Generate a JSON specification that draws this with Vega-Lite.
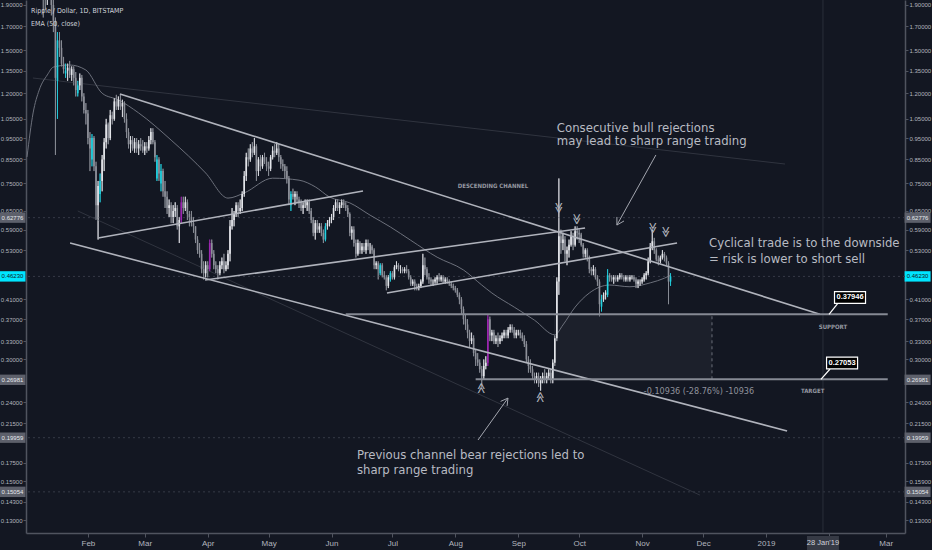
{
"$schema":"https://vega.github.io/schema/vega-lite/v6.json",
"width":879,"height":533,"autosize":"none",
"padding":{"left":26,"top":0,"right":27,"bottom":17},
"background":"#131722",
"config":{"view":{"stroke":null},"axis":{"domainColor":"#50545f","tickColor":"#50545f","labelColor":"#b2b5be","labelFont":"Liberation Sans","grid":false},"text":{"font":"DejaVu Sans Condensed"}},
"datasets":{
"candles":[
{"d":"2018-01-01","o":2.10,"h":2.45,"l":2.00,"c":2.30},
{"d":"2018-01-02","o":2.30,"h":2.80,"l":2.25,"c":2.65},
{"d":"2018-01-03","o":2.65,"h":3.20,"l":2.60,"c":3.05},
{"d":"2018-01-04","o":3.05,"h":3.40,"l":2.90,"c":3.10},
{"d":"2018-01-05","o":3.10,"h":3.30,"l":2.80,"c":3.00},
{"d":"2018-01-06","o":3.00,"h":3.10,"l":2.80,"c":2.90},
{"d":"2018-01-07","o":2.90,"h":2.95,"l":2.50,"c":2.60},
{"d":"2018-01-08","o":2.60,"h":2.65,"l":2.05,"c":2.20},
{"d":"2018-01-09","o":2.20,"h":2.35,"l":1.95,"c":2.05},
{"d":"2018-01-10","o":2.05,"h":2.10,"l":1.78,"c":2.00},
{"d":"2018-01-11","o":2.00,"h":2.10,"l":1.85,"c":1.95},
{"d":"2018-01-12","o":1.95,"h":2.15,"l":1.90,"c":2.05},
{"d":"2018-01-13","o":2.05,"h":2.25,"l":2.00,"c":2.10},
{"d":"2018-01-14","o":2.10,"h":2.15,"l":1.80,"c":1.90},
{"d":"2018-01-15","o":1.90,"h":2.05,"l":1.65,"c":1.75},
{"d":"2018-01-16","o":1.75,"h":1.78,"l":0.87,"c":1.30},
{"d":"2018-01-17","o":1.28,"h":1.65,"l":1.05,"c":1.58},
{"d":"2018-01-18","o":1.58,"h":1.65,"l":1.45,"c":1.52},
{"d":"2018-01-19","o":1.52,"h":1.58,"l":1.38,"c":1.40},
{"d":"2018-01-20","o":1.40,"h":1.45,"l":1.33,"c":1.36},
{"d":"2018-01-21","o":1.33,"h":1.40,"l":1.30,"c":1.35},
{"d":"2018-01-22","o":1.35,"h":1.40,"l":1.28,"c":1.37},
{"d":"2018-01-23","o":1.37,"h":1.42,"l":1.30,"c":1.32},
{"d":"2018-01-24","o":1.32,"h":1.38,"l":1.28,"c":1.36},
{"d":"2018-01-25","o":1.36,"h":1.38,"l":1.25,"c":1.30},
{"d":"2018-01-26","o":1.30,"h":1.34,"l":1.18,"c":1.22},
{"d":"2018-01-27","o":1.20,"h":1.28,"l":1.18,"c":1.25},
{"d":"2018-01-28","o":1.25,"h":1.33,"l":1.22,"c":1.30},
{"d":"2018-01-29","o":1.30,"h":1.32,"l":1.15,"c":1.18},
{"d":"2018-01-30","o":1.18,"h":1.20,"l":1.08,"c":1.10},
{"d":"2018-01-31","o":1.10,"h":1.14,"l":1.02,"c":1.08},
{"d":"2018-02-01","o":1.08,"h":1.10,"l":0.92,"c":0.95},
{"d":"2018-02-02","o":0.95,"h":0.98,"l":0.80,"c":0.90},
{"d":"2018-02-03","o":0.85,"h":0.97,"l":0.82,"c":0.95},
{"d":"2018-02-04","o":0.95,"h":0.96,"l":0.80,"c":0.82},
{"d":"2018-02-05","o":0.82,"h":0.84,"l":0.62,"c":0.67},
{"d":"2018-02-06","o":0.67,"h":0.76,"l":0.56,"c":0.74},
{"d":"2018-02-07","o":0.71,"h":0.79,"l":0.68,"c":0.76},
{"d":"2018-02-08","o":0.76,"h":0.87,"l":0.72,"c":0.85},
{"d":"2018-02-09","o":0.85,"h":0.95,"l":0.80,"c":0.93},
{"d":"2018-02-10","o":0.93,"h":1.05,"l":0.90,"c":1.02},
{"d":"2018-02-11","o":1.02,"h":1.03,"l":0.92,"c":0.95},
{"d":"2018-02-12","o":0.95,"h":1.10,"l":0.94,"c":1.07},
{"d":"2018-02-13","o":1.07,"h":1.09,"l":1.02,"c":1.05},
{"d":"2018-02-14","o":1.05,"h":1.17,"l":1.04,"c":1.15},
{"d":"2018-02-15","o":1.15,"h":1.19,"l":1.10,"c":1.12},
{"d":"2018-02-16","o":1.12,"h":1.18,"l":1.10,"c":1.16},
{"d":"2018-02-17","o":1.16,"h":1.195,"l":1.10,"c":1.12},
{"d":"2018-02-18","o":1.12,"h":1.16,"l":1.06,"c":1.14},
{"d":"2018-02-19","o":1.14,"h":1.15,"l":1.03,"c":1.05},
{"d":"2018-02-20","o":1.05,"h":1.08,"l":0.95,"c":0.98},
{"d":"2018-02-21","o":0.98,"h":1.00,"l":0.90,"c":0.92},
{"d":"2018-02-22","o":0.92,"h":0.96,"l":0.88,"c":0.94},
{"d":"2018-02-23","o":0.94,"h":0.96,"l":0.89,"c":0.90},
{"d":"2018-02-24","o":0.90,"h":0.95,"l":0.88,"c":0.93},
{"d":"2018-02-25","o":0.93,"h":0.95,"l":0.88,"c":0.90},
{"d":"2018-02-26","o":0.90,"h":0.94,"l":0.87,"c":0.92},
{"d":"2018-02-27","o":0.92,"h":0.95,"l":0.89,"c":0.91},
{"d":"2018-02-28","o":0.91,"h":0.94,"l":0.88,"c":0.89},
{"d":"2018-03-01","o":0.89,"h":0.93,"l":0.87,"c":0.91},
{"d":"2018-03-02","o":0.91,"h":0.93,"l":0.88,"c":0.90},
{"d":"2018-03-03","o":0.90,"h":0.96,"l":0.89,"c":0.94},
{"d":"2018-03-04","o":0.94,"h":1.00,"l":0.92,"c":0.98},
{"d":"2018-03-05","o":0.98,"h":1.00,"l":0.92,"c":0.93},
{"d":"2018-03-06","o":0.93,"h":0.94,"l":0.84,"c":0.86},
{"d":"2018-03-07","o":0.77,"h":0.87,"l":0.76,"c":0.85},
{"d":"2018-03-08","o":0.85,"h":0.86,"l":0.76,"c":0.79},
{"d":"2018-03-09","o":0.75,"h":0.83,"l":0.72,"c":0.80},
{"d":"2018-03-10","o":0.80,"h":0.81,"l":0.70,"c":0.72},
{"d":"2018-03-11","o":0.72,"h":0.76,"l":0.66,"c":0.70},
{"d":"2018-03-12","o":0.70,"h":0.72,"l":0.64,"c":0.66},
{"d":"2018-03-13","o":0.66,"h":0.69,"l":0.63,"c":0.67},
{"d":"2018-03-14","o":0.67,"h":0.68,"l":0.61,"c":0.63},
{"d":"2018-03-15","o":0.63,"h":0.67,"l":0.61,"c":0.65},
{"d":"2018-03-16","o":0.65,"h":0.68,"l":0.63,"c":0.66},
{"d":"2018-03-17","o":0.66,"h":0.67,"l":0.59,"c":0.60},
{"d":"2018-03-18","o":0.60,"h":0.63,"l":0.55,"c":0.62},
{"d":"2018-03-19","o":0.62,"h":0.70,"l":0.61,"c":0.68},
{"d":"2018-03-20","o":0.68,"h":0.70,"l":0.64,"c":0.66},
{"d":"2018-03-21","o":0.66,"h":0.70,"l":0.65,"c":0.68},
{"d":"2018-03-22","o":0.68,"h":0.69,"l":0.62,"c":0.64},
{"d":"2018-03-23","o":0.64,"h":0.65,"l":0.60,"c":0.63},
{"d":"2018-03-24","o":0.63,"h":0.65,"l":0.60,"c":0.61},
{"d":"2018-03-25","o":0.61,"h":0.63,"l":0.58,"c":0.60},
{"d":"2018-03-26","o":0.60,"h":0.60,"l":0.55,"c":0.56},
{"d":"2018-03-27","o":0.56,"h":0.57,"l":0.52,"c":0.53},
{"d":"2018-03-28","o":0.53,"h":0.55,"l":0.51,"c":0.52},
{"d":"2018-03-29","o":0.52,"h":0.53,"l":0.47,"c":0.48},
{"d":"2018-03-30","o":0.48,"h":0.50,"l":0.455,"c":0.47},
{"d":"2018-03-31","o":0.47,"h":0.50,"l":0.46,"c":0.49},
{"d":"2018-04-01","o":0.49,"h":0.50,"l":0.46,"c":0.48},
{"d":"2018-04-02","o":0.48,"h":0.56,"l":0.475,"c":0.55},
{"d":"2018-04-03","o":0.55,"h":0.56,"l":0.51,"c":0.52},
{"d":"2018-04-04","o":0.52,"h":0.53,"l":0.48,"c":0.49},
{"d":"2018-04-05","o":0.49,"h":0.50,"l":0.47,"c":0.48},
{"d":"2018-04-06","o":0.48,"h":0.49,"l":0.455,"c":0.47},
{"d":"2018-04-07","o":0.47,"h":0.50,"l":0.465,"c":0.49},
{"d":"2018-04-08","o":0.49,"h":0.51,"l":0.48,"c":0.50},
{"d":"2018-04-09","o":0.50,"h":0.52,"l":0.47,"c":0.48},
{"d":"2018-04-10","o":0.48,"h":0.50,"l":0.475,"c":0.49},
{"d":"2018-04-11","o":0.49,"h":0.53,"l":0.48,"c":0.52},
{"d":"2018-04-12","o":0.52,"h":0.62,"l":0.50,"c":0.60},
{"d":"2018-04-13","o":0.60,"h":0.66,"l":0.59,"c":0.62},
{"d":"2018-04-14","o":0.62,"h":0.65,"l":0.60,"c":0.64},
{"d":"2018-04-15","o":0.64,"h":0.68,"l":0.63,"c":0.67},
{"d":"2018-04-16","o":0.67,"h":0.68,"l":0.63,"c":0.65},
{"d":"2018-04-17","o":0.65,"h":0.69,"l":0.64,"c":0.66},
{"d":"2018-04-18","o":0.66,"h":0.72,"l":0.65,"c":0.71},
{"d":"2018-04-19","o":0.71,"h":0.80,"l":0.70,"c":0.78},
{"d":"2018-04-20","o":0.78,"h":0.88,"l":0.76,"c":0.86},
{"d":"2018-04-21","o":0.86,"h":0.90,"l":0.82,"c":0.85},
{"d":"2018-04-22","o":0.85,"h":0.92,"l":0.84,"c":0.90},
{"d":"2018-04-23","o":0.90,"h":0.93,"l":0.86,"c":0.88},
{"d":"2018-04-24","o":0.88,"h":0.95,"l":0.87,"c":0.91},
{"d":"2018-04-25","o":0.91,"h":0.92,"l":0.76,"c":0.80},
{"d":"2018-04-26","o":0.80,"h":0.86,"l":0.78,"c":0.85},
{"d":"2018-04-27","o":0.85,"h":0.87,"l":0.80,"c":0.82},
{"d":"2018-04-28","o":0.82,"h":0.87,"l":0.81,"c":0.86},
{"d":"2018-04-29","o":0.86,"h":0.88,"l":0.83,"c":0.84},
{"d":"2018-04-30","o":0.84,"h":0.86,"l":0.80,"c":0.82},
{"d":"2018-05-01","o":0.82,"h":0.84,"l":0.78,"c":0.81},
{"d":"2018-05-02","o":0.81,"h":0.87,"l":0.80,"c":0.86},
{"d":"2018-05-03","o":0.86,"h":0.91,"l":0.85,"c":0.89},
{"d":"2018-05-04","o":0.89,"h":0.92,"l":0.86,"c":0.88},
{"d":"2018-05-05","o":0.88,"h":0.93,"l":0.87,"c":0.90},
{"d":"2018-05-06","o":0.90,"h":0.92,"l":0.84,"c":0.86},
{"d":"2018-05-07","o":0.86,"h":0.87,"l":0.81,"c":0.83},
{"d":"2018-05-08","o":0.83,"h":0.85,"l":0.80,"c":0.82},
{"d":"2018-05-09","o":0.82,"h":0.83,"l":0.77,"c":0.80},
{"d":"2018-05-10","o":0.80,"h":0.82,"l":0.75,"c":0.77},
{"d":"2018-05-11","o":0.77,"h":0.78,"l":0.67,"c":0.69},
{"d":"2018-05-12","o":0.67,"h":0.72,"l":0.65,"c":0.71},
{"d":"2018-05-13","o":0.71,"h":0.73,"l":0.69,"c":0.70},
{"d":"2018-05-14","o":0.70,"h":0.72,"l":0.67,"c":0.71},
{"d":"2018-05-15","o":0.71,"h":0.72,"l":0.68,"c":0.69},
{"d":"2018-05-16","o":0.69,"h":0.70,"l":0.66,"c":0.68},
{"d":"2018-05-17","o":0.68,"h":0.69,"l":0.65,"c":0.66},
{"d":"2018-05-18","o":0.66,"h":0.68,"l":0.64,"c":0.67},
{"d":"2018-05-19","o":0.67,"h":0.69,"l":0.66,"c":0.67},
{"d":"2018-05-20","o":0.67,"h":0.69,"l":0.65,"c":0.68},
{"d":"2018-05-21","o":0.68,"h":0.69,"l":0.64,"c":0.65},
{"d":"2018-05-22","o":0.65,"h":0.66,"l":0.61,"c":0.62},
{"d":"2018-05-23","o":0.62,"h":0.63,"l":0.57,"c":0.58},
{"d":"2018-05-24","o":0.58,"h":0.62,"l":0.56,"c":0.61},
{"d":"2018-05-25","o":0.61,"h":0.62,"l":0.58,"c":0.59},
{"d":"2018-05-26","o":0.59,"h":0.61,"l":0.58,"c":0.60},
{"d":"2018-05-27","o":0.60,"h":0.61,"l":0.57,"c":0.58},
{"d":"2018-05-28","o":0.58,"h":0.59,"l":0.55,"c":0.56},
{"d":"2018-05-29","o":0.56,"h":0.61,"l":0.555,"c":0.60},
{"d":"2018-05-30","o":0.60,"h":0.62,"l":0.59,"c":0.61},
{"d":"2018-05-31","o":0.61,"h":0.63,"l":0.60,"c":0.62},
{"d":"2018-06-01","o":0.62,"h":0.64,"l":0.61,"c":0.63},
{"d":"2018-06-02","o":0.63,"h":0.67,"l":0.62,"c":0.66},
{"d":"2018-06-03","o":0.66,"h":0.69,"l":0.65,"c":0.68},
{"d":"2018-06-04","o":0.68,"h":0.69,"l":0.65,"c":0.66},
{"d":"2018-06-05","o":0.66,"h":0.68,"l":0.64,"c":0.67},
{"d":"2018-06-06","o":0.67,"h":0.69,"l":0.66,"c":0.68},
{"d":"2018-06-07","o":0.68,"h":0.69,"l":0.66,"c":0.67},
{"d":"2018-06-08","o":0.67,"h":0.68,"l":0.65,"c":0.66},
{"d":"2018-06-09","o":0.66,"h":0.67,"l":0.63,"c":0.64},
{"d":"2018-06-10","o":0.64,"h":0.645,"l":0.57,"c":0.58},
{"d":"2018-06-11","o":0.58,"h":0.60,"l":0.56,"c":0.59},
{"d":"2018-06-12","o":0.59,"h":0.60,"l":0.54,"c":0.55},
{"d":"2018-06-13","o":0.55,"h":0.56,"l":0.51,"c":0.52},
{"d":"2018-06-14","o":0.52,"h":0.56,"l":0.515,"c":0.55},
{"d":"2018-06-15","o":0.55,"h":0.555,"l":0.52,"c":0.53},
{"d":"2018-06-16","o":0.53,"h":0.55,"l":0.52,"c":0.54},
{"d":"2018-06-17","o":0.54,"h":0.55,"l":0.525,"c":0.53},
{"d":"2018-06-18","o":0.53,"h":0.56,"l":0.52,"c":0.55},
{"d":"2018-06-19","o":0.55,"h":0.56,"l":0.53,"c":0.54},
{"d":"2018-06-20","o":0.54,"h":0.55,"l":0.52,"c":0.54},
{"d":"2018-06-21","o":0.54,"h":0.545,"l":0.52,"c":0.53},
{"d":"2018-06-22","o":0.53,"h":0.535,"l":0.48,"c":0.49},
{"d":"2018-06-23","o":0.49,"h":0.50,"l":0.48,"c":0.495},
{"d":"2018-06-24","o":0.495,"h":0.50,"l":0.455,"c":0.48},
{"d":"2018-06-25","o":0.47,"h":0.495,"l":0.465,"c":0.49},
{"d":"2018-06-26","o":0.49,"h":0.495,"l":0.46,"c":0.465},
{"d":"2018-06-27","o":0.465,"h":0.475,"l":0.455,"c":0.46},
{"d":"2018-06-28","o":0.46,"h":0.465,"l":0.43,"c":0.44},
{"d":"2018-06-29","o":0.44,"h":0.465,"l":0.435,"c":0.46},
{"d":"2018-06-30","o":0.455,"h":0.475,"l":0.45,"c":0.47},
{"d":"2018-07-01","o":0.47,"h":0.475,"l":0.455,"c":0.46},
{"d":"2018-07-02","o":0.46,"h":0.49,"l":0.455,"c":0.485},
{"d":"2018-07-03","o":0.485,"h":0.50,"l":0.48,"c":0.49},
{"d":"2018-07-04","o":0.49,"h":0.495,"l":0.475,"c":0.48},
{"d":"2018-07-05","o":0.48,"h":0.49,"l":0.47,"c":0.48},
{"d":"2018-07-06","o":0.48,"h":0.485,"l":0.47,"c":0.475},
{"d":"2018-07-07","o":0.475,"h":0.485,"l":0.47,"c":0.48},
{"d":"2018-07-08","o":0.48,"h":0.49,"l":0.47,"c":0.475},
{"d":"2018-07-09","o":0.475,"h":0.48,"l":0.455,"c":0.46},
{"d":"2018-07-10","o":0.46,"h":0.465,"l":0.44,"c":0.445},
{"d":"2018-07-11","o":0.445,"h":0.455,"l":0.44,"c":0.45},
{"d":"2018-07-12","o":0.45,"h":0.455,"l":0.43,"c":0.44},
{"d":"2018-07-13","o":0.44,"h":0.445,"l":0.43,"c":0.435},
{"d":"2018-07-14","o":0.435,"h":0.445,"l":0.43,"c":0.44},
{"d":"2018-07-15","o":0.44,"h":0.455,"l":0.435,"c":0.45},
{"d":"2018-07-16","o":0.45,"h":0.52,"l":0.445,"c":0.49},
{"d":"2018-07-17","o":0.49,"h":0.51,"l":0.465,"c":0.48},
{"d":"2018-07-18","o":0.48,"h":0.485,"l":0.455,"c":0.46},
{"d":"2018-07-19","o":0.46,"h":0.47,"l":0.445,"c":0.455},
{"d":"2018-07-20","o":0.455,"h":0.46,"l":0.44,"c":0.45},
{"d":"2018-07-21","o":0.45,"h":0.455,"l":0.44,"c":0.45},
{"d":"2018-07-22","o":0.45,"h":0.46,"l":0.445,"c":0.455},
{"d":"2018-07-23","o":0.455,"h":0.465,"l":0.445,"c":0.46},
{"d":"2018-07-24","o":0.46,"h":0.47,"l":0.45,"c":0.455},
{"d":"2018-07-25","o":0.455,"h":0.465,"l":0.45,"c":0.46},
{"d":"2018-07-26","o":0.46,"h":0.465,"l":0.445,"c":0.45},
{"d":"2018-07-27","o":0.45,"h":0.46,"l":0.445,"c":0.455},
{"d":"2018-07-28","o":0.455,"h":0.46,"l":0.445,"c":0.45},
{"d":"2018-07-29","o":0.45,"h":0.455,"l":0.44,"c":0.445},
{"d":"2018-07-30","o":0.445,"h":0.45,"l":0.435,"c":0.44},
{"d":"2018-07-31","o":0.44,"h":0.445,"l":0.43,"c":0.435},
{"d":"2018-08-01","o":0.435,"h":0.44,"l":0.425,"c":0.43},
{"d":"2018-08-02","o":0.43,"h":0.435,"l":0.415,"c":0.42},
{"d":"2018-08-03","o":0.42,"h":0.425,"l":0.40,"c":0.41},
{"d":"2018-08-04","o":0.41,"h":0.415,"l":0.38,"c":0.39},
{"d":"2018-08-05","o":0.39,"h":0.395,"l":0.36,"c":0.37},
{"d":"2018-08-06","o":0.37,"h":0.38,"l":0.35,"c":0.36},
{"d":"2018-08-07","o":0.36,"h":0.37,"l":0.335,"c":0.345},
{"d":"2018-08-08","o":0.345,"h":0.35,"l":0.32,"c":0.33},
{"d":"2018-08-09","o":0.33,"h":0.345,"l":0.325,"c":0.335},
{"d":"2018-08-10","o":0.335,"h":0.34,"l":0.305,"c":0.31},
{"d":"2018-08-11","o":0.31,"h":0.315,"l":0.29,"c":0.30},
{"d":"2018-08-12","o":0.30,"h":0.31,"l":0.29,"c":0.295},
{"d":"2018-08-13","o":0.295,"h":0.30,"l":0.28,"c":0.285},
{"d":"2018-08-14","o":0.285,"h":0.29,"l":0.26,"c":0.275},
{"d":"2018-08-15","o":0.275,"h":0.30,"l":0.27,"c":0.29},
{"d":"2018-08-16","o":0.29,"h":0.305,"l":0.285,"c":0.295},
{"d":"2018-08-17","o":0.295,"h":0.38,"l":0.29,"c":0.37},
{"d":"2018-08-18","o":0.37,"h":0.375,"l":0.33,"c":0.34},
{"d":"2018-08-19","o":0.34,"h":0.35,"l":0.33,"c":0.345},
{"d":"2018-08-20","o":0.345,"h":0.35,"l":0.325,"c":0.33},
{"d":"2018-08-21","o":0.33,"h":0.34,"l":0.325,"c":0.335},
{"d":"2018-08-22","o":0.335,"h":0.345,"l":0.32,"c":0.33},
{"d":"2018-08-23","o":0.33,"h":0.34,"l":0.325,"c":0.335},
{"d":"2018-08-24","o":0.335,"h":0.345,"l":0.33,"c":0.34},
{"d":"2018-08-25","o":0.34,"h":0.35,"l":0.335,"c":0.345},
{"d":"2018-08-26","o":0.345,"h":0.35,"l":0.335,"c":0.34},
{"d":"2018-08-27","o":0.34,"h":0.355,"l":0.335,"c":0.35},
{"d":"2018-08-28","o":0.35,"h":0.36,"l":0.345,"c":0.355},
{"d":"2018-08-29","o":0.355,"h":0.36,"l":0.345,"c":0.35},
{"d":"2018-08-30","o":0.35,"h":0.355,"l":0.335,"c":0.34},
{"d":"2018-08-31","o":0.34,"h":0.35,"l":0.335,"c":0.345},
{"d":"2018-09-01","o":0.345,"h":0.35,"l":0.34,"c":0.345},
{"d":"2018-09-02","o":0.345,"h":0.35,"l":0.335,"c":0.34},
{"d":"2018-09-03","o":0.34,"h":0.345,"l":0.33,"c":0.335},
{"d":"2018-09-04","o":0.335,"h":0.34,"l":0.32,"c":0.325},
{"d":"2018-09-05","o":0.325,"h":0.33,"l":0.295,"c":0.30},
{"d":"2018-09-06","o":0.30,"h":0.305,"l":0.28,"c":0.29},
{"d":"2018-09-07","o":0.29,"h":0.30,"l":0.28,"c":0.285},
{"d":"2018-09-08","o":0.285,"h":0.29,"l":0.27,"c":0.275},
{"d":"2018-09-09","o":0.275,"h":0.28,"l":0.265,"c":0.27},
{"d":"2018-09-10","o":0.27,"h":0.28,"l":0.265,"c":0.275},
{"d":"2018-09-11","o":0.275,"h":0.28,"l":0.26,"c":0.265},
{"d":"2018-09-12","o":0.265,"h":0.275,"l":0.255,"c":0.27},
{"d":"2018-09-13","o":0.27,"h":0.28,"l":0.265,"c":0.275},
{"d":"2018-09-14","o":0.275,"h":0.285,"l":0.265,"c":0.27},
{"d":"2018-09-15","o":0.27,"h":0.28,"l":0.265,"c":0.275},
{"d":"2018-09-16","o":0.275,"h":0.285,"l":0.27,"c":0.28},
{"d":"2018-09-17","o":0.28,"h":0.285,"l":0.265,"c":0.27},
{"d":"2018-09-18","o":0.27,"h":0.30,"l":0.265,"c":0.295},
{"d":"2018-09-19","o":0.295,"h":0.34,"l":0.29,"c":0.335},
{"d":"2018-09-20","o":0.335,"h":0.46,"l":0.33,"c":0.45},
{"d":"2018-09-21","o":0.45,"h":0.77,"l":0.42,"c":0.57},
{"d":"2018-09-22","o":0.57,"h":0.59,"l":0.52,"c":0.55},
{"d":"2018-09-23","o":0.55,"h":0.58,"l":0.53,"c":0.56},
{"d":"2018-09-24","o":0.56,"h":0.57,"l":0.50,"c":0.52},
{"d":"2018-09-25","o":0.52,"h":0.54,"l":0.49,"c":0.53},
{"d":"2018-09-26","o":0.53,"h":0.56,"l":0.51,"c":0.545},
{"d":"2018-09-27","o":0.545,"h":0.585,"l":0.54,"c":0.57},
{"d":"2018-09-28","o":0.57,"h":0.58,"l":0.53,"c":0.545},
{"d":"2018-09-29","o":0.545,"h":0.60,"l":0.54,"c":0.585},
{"d":"2018-09-30","o":0.585,"h":0.60,"l":0.56,"c":0.58},
{"d":"2018-10-01","o":0.58,"h":0.59,"l":0.55,"c":0.575},
{"d":"2018-10-02","o":0.575,"h":0.58,"l":0.54,"c":0.545},
{"d":"2018-10-03","o":0.545,"h":0.55,"l":0.51,"c":0.52},
{"d":"2018-10-04","o":0.52,"h":0.535,"l":0.51,"c":0.53},
{"d":"2018-10-05","o":0.53,"h":0.535,"l":0.50,"c":0.51},
{"d":"2018-10-06","o":0.51,"h":0.515,"l":0.47,"c":0.48},
{"d":"2018-10-07","o":0.48,"h":0.485,"l":0.465,"c":0.475},
{"d":"2018-10-08","o":0.475,"h":0.49,"l":0.465,"c":0.48},
{"d":"2018-10-09","o":0.48,"h":0.485,"l":0.455,"c":0.46},
{"d":"2018-10-10","o":0.46,"h":0.465,"l":0.44,"c":0.45},
{"d":"2018-10-11","o":0.45,"h":0.455,"l":0.375,"c":0.40},
{"d":"2018-10-12","o":0.395,"h":0.42,"l":0.385,"c":0.41},
{"d":"2018-10-13","o":0.41,"h":0.425,"l":0.405,"c":0.42},
{"d":"2018-10-14","o":0.42,"h":0.43,"l":0.41,"c":0.425},
{"d":"2018-10-15","o":0.42,"h":0.48,"l":0.415,"c":0.465},
{"d":"2018-10-16","o":0.465,"h":0.47,"l":0.45,"c":0.46},
{"d":"2018-10-17","o":0.46,"h":0.465,"l":0.45,"c":0.455},
{"d":"2018-10-18","o":0.455,"h":0.465,"l":0.445,"c":0.46},
{"d":"2018-10-19","o":0.46,"h":0.465,"l":0.45,"c":0.455},
{"d":"2018-10-20","o":0.455,"h":0.465,"l":0.45,"c":0.46},
{"d":"2018-10-21","o":0.46,"h":0.47,"l":0.455,"c":0.465},
{"d":"2018-10-22","o":0.465,"h":0.47,"l":0.455,"c":0.46},
{"d":"2018-10-23","o":0.46,"h":0.465,"l":0.45,"c":0.455},
{"d":"2018-10-24","o":0.455,"h":0.465,"l":0.45,"c":0.46},
{"d":"2018-10-25","o":0.46,"h":0.465,"l":0.45,"c":0.455},
{"d":"2018-10-26","o":0.455,"h":0.465,"l":0.45,"c":0.46},
{"d":"2018-10-27","o":0.46,"h":0.465,"l":0.455,"c":0.46},
{"d":"2018-10-28","o":0.46,"h":0.465,"l":0.45,"c":0.455},
{"d":"2018-10-29","o":0.455,"h":0.46,"l":0.435,"c":0.445},
{"d":"2018-10-30","o":0.445,"h":0.455,"l":0.435,"c":0.45},
{"d":"2018-10-31","o":0.45,"h":0.455,"l":0.44,"c":0.45},
{"d":"2018-11-01","o":0.45,"h":0.46,"l":0.445,"c":0.455},
{"d":"2018-11-02","o":0.455,"h":0.47,"l":0.45,"c":0.465},
{"d":"2018-11-03","o":0.465,"h":0.475,"l":0.455,"c":0.47},
{"d":"2018-11-04","o":0.47,"h":0.51,"l":0.465,"c":0.50},
{"d":"2018-11-05","o":0.50,"h":0.55,"l":0.495,"c":0.54},
{"d":"2018-11-06","o":0.54,"h":0.59,"l":0.53,"c":0.555},
{"d":"2018-11-07","o":0.555,"h":0.565,"l":0.52,"c":0.53},
{"d":"2018-11-08","o":0.53,"h":0.535,"l":0.50,"c":0.505},
{"d":"2018-11-09","o":0.505,"h":0.515,"l":0.49,"c":0.50},
{"d":"2018-11-10","o":0.50,"h":0.515,"l":0.495,"c":0.51},
{"d":"2018-11-11","o":0.51,"h":0.53,"l":0.505,"c":0.52},
{"d":"2018-11-12","o":0.52,"h":0.525,"l":0.50,"c":0.51},
{"d":"2018-11-13","o":0.51,"h":0.515,"l":0.49,"c":0.495},
{"d":"2018-11-14","o":0.495,"h":0.50,"l":0.40,"c":0.45},
{"d":"2018-11-15","o":0.45,"h":0.47,"l":0.44,"c":0.4623}
],
"ema":[{"d":"2018-01-02","p":0.861},{"d":"2018-01-05","p":1.083},{"d":"2018-01-08","p":1.22},{"d":"2018-01-12","p":1.32},{"d":"2018-01-15","p":1.375},{"d":"2018-01-23","p":1.39},{"d":"2018-01-31","p":1.354},{"d":"2018-02-08","p":1.20},{"d":"2018-02-16","p":1.159},{"d":"2018-02-26","p":1.083},{"d":"2018-03-14","p":0.94},{"d":"2018-03-31","p":0.792},{"d":"2018-04-11","p":0.695},{"d":"2018-04-19","p":0.714},{"d":"2018-05-03","p":0.771},{"d":"2018-05-16","p":0.763},{"d":"2018-05-24","p":0.737},{"d":"2018-05-31","p":0.699},{"d":"2018-06-10","p":0.678},{"d":"2018-06-20","p":0.636},{"d":"2018-06-30","p":0.598},{"d":"2018-07-10","p":0.558},{"d":"2018-07-23","p":0.511},{"d":"2018-08-05","p":0.478},{"d":"2018-08-14","p":0.442},{"d":"2018-08-19","p":0.424},{"d":"2018-08-30","p":0.394},{"d":"2018-09-09","p":0.368},{"d":"2018-09-19","p":0.341},{"d":"2018-09-23","p":0.359},{"d":"2018-09-29","p":0.394},{"d":"2018-10-06","p":0.424},{"d":"2018-10-16","p":0.442},{"d":"2018-10-26","p":0.438},{"d":"2018-11-05","p":0.447},{"d":"2018-11-12","p":0.458},{"d":"2018-11-15","p":0.465}],
"trend":[
{"g":"L1","d":"2018-02-16T19:00:00Z","p":1.195},{"g":"L1","d":"2019-01-27T14:00:00Z","p":0.3795},
{"g":"L2","d":"2018-01-23T05:00:00Z","p":0.550},{"g":"L2","d":"2019-01-11T10:00:00Z","p":0.2067},
{"g":"L3","d":"2018-02-06T00:00:00Z","p":0.5646},{"g":"L3","d":"2018-06-16T12:00:00Z","p":0.721},
{"g":"L4","d":"2018-03-30T17:00:00Z","p":0.4536},{"g":"L4","d":"2018-10-03T22:00:00Z","p":0.595},
{"g":"L5","d":"2018-06-28T07:00:00Z","p":0.424},{"g":"L5","d":"2018-11-18T05:00:00Z","p":0.550}
],
"faint":[
{"g":"F1","d":"2018-01-04T22:00:00Z","p":1.299},{"g":"F1","d":"2019-01-10T10:00:00Z","p":0.830},
{"g":"F2","d":"2018-01-27T00:00:00Z","p":0.650},{"g":"F2","d":"2018-11-29T12:00:00Z","p":0.148}
],
"levels":[
{"g":"S","d":"2018-06-08","p":0.37946},{"g":"S","d":"2019-03-02","p":0.37946},
{"g":"T","d":"2018-08-11","p":0.27053},{"g":"T","d":"2019-03-02","p":0.27053}
],
"arrows":[
{"g":"A1s","k":0,"d":"2018-11-07T19:00:00Z","p":0.870},{"g":"A1s","k":1,"d":"2018-10-19T14:00:00Z","p":0.604},
{"g":"A1h","k":0,"d":"2018-10-23T02:00:00Z","p":0.617},{"g":"A1h","k":1,"d":"2018-10-19T14:00:00Z","p":0.604},{"g":"A1h","k":2,"d":"2018-10-19T14:00:00Z","p":0.630},
{"g":"A2s","k":0,"d":"2018-08-12T04:00:00Z","p":0.1972},{"g":"A2s","k":1,"d":"2018-08-26T22:00:00Z","p":0.2453},
{"g":"A2h","k":0,"d":"2018-08-23T07:00:00Z","p":0.2411},{"g":"A2h","k":1,"d":"2018-08-26T22:00:00Z","p":0.2453},{"g":"A2h","k":2,"d":"2018-08-26T12:00:00Z","p":0.2355}
],
"pointers":[
{"g":"P1","d":"2019-02-05T12:00:00Z","p":0.4024},{"g":"P1","d":"2019-02-01T02:00:00Z","p":0.3795},
{"g":"P2","d":"2019-02-01T14:00:00Z","p":0.2854},{"g":"P2","d":"2019-01-28T02:00:00Z","p":0.2705}
],
"callouts":[{"d":"2019-02-11T10:00:00Z","p":0.4143,"t":"0.37946"},{"d":"2019-02-07T12:00:00Z","p":0.2944,"t":"0.27053"}],
"notes":[
{"d":"2018-09-20","p":1.001,"t":"Consecutive bull rejections"},
{"d":"2018-09-20","p":0.936,"t":"may lead to sharp range trading"},
{"d":"2018-12-04","p":0.550,"t":"Cyclical trade is to the downside"},
{"d":"2018-12-04","p":0.506,"t":"= risk is lower to short sell"},
{"d":"2018-06-13T12:00:00Z","p":0.1824,"t":"Previous channel bear rejections led to"},
{"d":"2018-06-13T12:00:00Z","p":0.1687,"t":"sharp range trading"}
],
"caps":[
{"d":"2018-08-19T12:00:00Z","p":0.740,"t":"DESCENDING CHANNEL"},
{"d":"2019-02-03","p":0.355,"t":"SUPPORT"},
{"d":"2019-01-24","p":0.2545,"t":"TARGET"}
],
"measureText":[{"d":"2018-11-29","p":0.2545,"t":"-0.10936 (-28.76%) -10936"}],
"measure":[{"d":"2018-09-18T14:00:00Z","d2":"2018-12-05T10:00:00Z","p":0.27053,"p2":0.37946}],
"chevDown":[{"d":"2018-09-21","p":0.660},{"d":"2018-09-30","p":0.623},{"d":"2018-11-06T10:00:00Z","p":0.595},{"d":"2018-11-12T19:00:00Z","p":0.5826}],
"chevUp":[{"d":"2018-08-13T14:00:00Z","p":0.2585},{"d":"2018-09-11T17:00:00Z","p":0.2466}],
"title":[{"d":"2018-01-04","p":1.841,"t":"Ripple / Dollar, 1D, BITSTAMP"},{"d":"2018-01-04","p":1.721,"t":"EMA (50, close)"}],
"badges":[{"p":0.62776,"t":"0.62776"},{"p":0.4623,"t":"0.46230"},{"p":0.26981,"t":"0.26981"},{"p":0.19959,"t":"0.19959"},{"p":0.15054,"t":"0.15054"}],
"hlines":[{"p":0.62776},{"p":0.4623},{"p":0.19959},{"p":0.15054}],
"cross":[{"d":"2019-01-29T02:00:00Z","p":0.1153,"t":"28 Jan'19"}]
},
"layer":[
{"data":{"name":"candles"},"mark":{"type":"rule","strokeWidth":0.8,"clip":true},
 "encoding":{
  "x":{"field":"d","type":"temporal","scale":{"type":"utc","nice":false,"domain":[{"year":2018,"month":1,"date":1,"hours":12,"utc":true},{"year":2019,"month":3,"date":10,"hours":12,"utc":true}]},
       "axis":{"title":null,"orient":"bottom","tickSize":4,"labelPadding":2,"labelFontSize":8,"domainWidth":1.5,
        "values":[{"year":2018,"month":2,"date":1,"utc":true},{"year":2018,"month":3,"date":1,"utc":true},{"year":2018,"month":4,"date":1,"utc":true},{"year":2018,"month":5,"date":1,"utc":true},{"year":2018,"month":6,"date":1,"utc":true},{"year":2018,"month":7,"date":1,"utc":true},{"year":2018,"month":8,"date":1,"utc":true},{"year":2018,"month":9,"date":1,"utc":true},{"year":2018,"month":10,"date":1,"utc":true},{"year":2018,"month":11,"date":1,"utc":true},{"year":2018,"month":12,"date":1,"utc":true},{"year":2019,"month":1,"date":1,"utc":true},{"year":2019,"month":2,"date":1,"utc":true},{"year":2019,"month":3,"date":1,"utc":true}],
        "labelExpr":"utcmonth(datum.value) == 0 ? utcFormat(datum.value, '%Y') : utcFormat(datum.value, '%b')"}},
  "y":{"field":"l","type":"quantitative","scale":{"type":"log","domain":[0.1215,1.95],"nice":false},
       "axis":{"title":null,"orient":"left","format":".5f","labelFontSize":6,"tickSize":3,"labelPadding":1,"domainWidth":1.5,
        "values":[1.9,1.7,1.5,1.35,1.2,1.05,0.95,0.85,0.75,0.65,0.59,0.53,0.41,0.37,0.33,0.3,0.24,0.215,0.175,0.159,0.143,0.13]}},
  "y2":{"field":"h"},
  "color":{"condition":[
    {"test":"indexof(['2018-01-17','2018-01-21','2018-01-27','2018-02-03','2018-02-07','2018-03-07','2018-03-09','2018-05-12','2018-05-29','2018-06-25','2018-06-30','2018-10-12','2018-10-15','2018-11-15'], utcFormat(datum.d, '%Y-%m-%d')) >= 0","value":"#22d1e0"},
    {"test":"indexof(['2018-03-19','2018-04-02','2018-08-17'], utcFormat(datum.d, '%Y-%m-%d')) >= 0","value":"#9c27b0"},
    {"test":"datum.c >= datum.o","value":"#e3e5ea"}],"value":"#8d9099"}}},
{"data":{"name":"badges"},"mark":{"type":"point","shape":"M-1,-0.4H1V0.4H-1Z","size":676,"filled":true,"strokeWidth":0,"opacity":1},"encoding":{"x":{"datum":{"year":2019,"month":3,"date":16,"hours":17,"utc":true},"type":"temporal","axis":null},
  "y":{"field":"p","type":"quantitative","axis":{"title":null,"orient":"right","format":".5f","labelFontSize":6,"tickSize":3,"labelPadding":1,"domainWidth":1.5,"values":[1.9,1.7,1.5,1.35,1.2,1.05,0.95,0.85,0.75,0.65,0.59,0.53,0.41,0.37,0.33,0.3,0.24,0.215,0.175,0.159,0.143,0.13]}},
  "fill":{"condition":{"test":"datum.p == 0.4623","value":"#00e5ff"},"value":"#5d606b"}}},
{"data":{"name":"hlines"},"mark":{"type":"rule","stroke":"#363a47","strokeDash":[2,3],"strokeWidth":1},"encoding":{"y":{"field":"p","type":"quantitative","axis":null}}},
{"data":{"name":"measure"},"mark":{"type":"rect","fill":"#1c202b"},"encoding":{"x":{"field":"d","type":"temporal","axis":null},"x2":{"field":"d2"},"y":{"field":"p","type":"quantitative","axis":null},"y2":{"field":"p2"}}},
{"data":{"name":"measure"},"mark":{"type":"rule","stroke":"#6b6f7a","strokeDash":[3,3],"strokeWidth":1},"encoding":{"x":{"field":"d2","type":"temporal","axis":null},"y":{"field":"p","type":"quantitative","axis":null},"y2":{"field":"p2"}}},
{"data":{"name":"cross"},"mark":{"type":"rule","stroke":"#2a2e3a","strokeWidth":1},"encoding":{"x":{"field":"d","type":"temporal","axis":null}}},
{"data":{"name":"faint"},"mark":{"type":"line","stroke":"#30343f","strokeWidth":1,"clip":true},"encoding":{"x":{"field":"d","type":"temporal","axis":null},"y":{"field":"p","type":"quantitative","axis":null},"detail":{"field":"g"}}},
{"data":{"name":"ema"},"mark":{"type":"line","stroke":"#6c707b","strokeWidth":1,"interpolate":"monotone","clip":true},"encoding":{"x":{"field":"d","type":"temporal","axis":null},"y":{"field":"p","type":"quantitative","axis":null}}},
{"data":{"name":"candles"},"mark":{"type":"rule","strokeWidth":0.8,"clip":true},
 "encoding":{
  "x":{"field":"d","type":"temporal","axis":null},
  "y":{"field":"l","type":"quantitative","axis":null},
  "y2":{"field":"h"},
  "color":{"condition":[
    {"test":"indexof(['2018-01-17','2018-01-21','2018-01-27','2018-02-03','2018-02-07','2018-03-07','2018-03-09','2018-05-12','2018-05-29','2018-06-25','2018-06-30','2018-10-12','2018-10-15','2018-11-15'], utcFormat(datum.d, '%Y-%m-%d')) >= 0","value":"#22d1e0"},
    {"test":"indexof(['2018-03-19','2018-04-02','2018-08-17'], utcFormat(datum.d, '%Y-%m-%d')) >= 0","value":"#9c27b0"},
    {"test":"datum.c >= datum.o","value":"#e3e5ea"}],"value":"#8d9099"}}},
{"data":{"name":"candles"},"mark":{"type":"rule","strokeWidth":1.6,"clip":true},
 "encoding":{
  "x":{"field":"d","type":"temporal","axis":null},
  "y":{"field":"o","type":"quantitative","axis":null},
  "y2":{"field":"c"},
  "color":{"condition":[
    {"test":"indexof(['2018-01-17','2018-01-21','2018-01-27','2018-02-03','2018-02-07','2018-03-07','2018-03-09','2018-05-12','2018-05-29','2018-06-25','2018-06-30','2018-10-12','2018-10-15','2018-11-15'], utcFormat(datum.d, '%Y-%m-%d')) >= 0","value":"#22d1e0"},
    {"test":"indexof(['2018-03-19','2018-04-02','2018-08-17'], utcFormat(datum.d, '%Y-%m-%d')) >= 0","value":"#9c27b0"},
    {"test":"datum.c >= datum.o","value":"#e3e5ea"}],"value":"#8d9099"}}},
{"data":{"name":"trend"},"mark":{"type":"line","stroke":"#b0b3bc","strokeWidth":1.6,"clip":true},"encoding":{"x":{"field":"d","type":"temporal","axis":null},"y":{"field":"p","type":"quantitative","axis":null},"detail":{"field":"g"}}},
{"data":{"name":"levels"},"mark":{"type":"line","stroke":"#868a94","strokeWidth":2,"clip":true},"encoding":{"x":{"field":"d","type":"temporal","axis":null},"y":{"field":"p","type":"quantitative","axis":null},"detail":{"field":"g"}}},
{"data":{"name":"arrows"},"mark":{"type":"line","stroke":"#a3a6af","strokeWidth":1},"encoding":{"x":{"field":"d","type":"temporal","axis":null},"y":{"field":"p","type":"quantitative","axis":null},"detail":{"field":"g"},"order":{"field":"k"}}},
{"data":{"name":"pointers"},"mark":{"type":"line","stroke":"#ffffff","strokeWidth":1.2},"encoding":{"x":{"field":"d","type":"temporal","axis":null},"y":{"field":"p","type":"quantitative","axis":null},"detail":{"field":"g"}}},
{"data":{"name":"callouts"},"mark":{"type":"point","shape":"M-1,-0.38H1V0.38H-1Z","size":961,"filled":true,"fill":"#000000","stroke":"#ffffff","strokeWidth":1.2,"opacity":1},"encoding":{"x":{"field":"d","type":"temporal","axis":null},"y":{"field":"p","type":"quantitative","axis":null}}},
{"data":{"name":"callouts"},"mark":{"type":"text","color":"#ffffff","font":"Liberation Sans","fontSize":7.5,"fontWeight":"bold","align":"center","baseline":"middle"},"encoding":{"x":{"field":"d","type":"temporal","axis":null},"y":{"field":"p","type":"quantitative","axis":null},"text":{"field":"t"}}},
{"data":{"name":"notes"},"mark":{"type":"text","color":"#b8bbc3","fontSize":13,"align":"left","baseline":"middle"},"encoding":{"x":{"field":"d","type":"temporal","axis":null},"y":{"field":"p","type":"quantitative","axis":null},"text":{"field":"t"}}},
{"data":{"name":"caps"},"mark":{"type":"text","color":"#9598a1","fontSize":6,"fontWeight":"bold","align":"center","baseline":"middle"},"encoding":{"x":{"field":"d","type":"temporal","axis":null},"y":{"field":"p","type":"quantitative","axis":null},"text":{"field":"t"}}},
{"data":{"name":"measureText"},"mark":{"type":"text","color":"#8f929b","fontSize":9,"align":"center","baseline":"middle"},"encoding":{"x":{"field":"d","type":"temporal","axis":null},"y":{"field":"p","type":"quantitative","axis":null},"text":{"field":"t"}}},
{"data":{"name":"chevDown"},"mark":{"type":"text","text":"≫","angle":90,"color":"#b2b5be","fontSize":12,"align":"center","baseline":"middle"},"encoding":{"x":{"field":"d","type":"temporal","axis":null},"y":{"field":"p","type":"quantitative","axis":null}}},
{"data":{"name":"chevUp"},"mark":{"type":"text","text":"≫","angle":270,"color":"#b2b5be","fontSize":12,"align":"center","baseline":"middle"},"encoding":{"x":{"field":"d","type":"temporal","axis":null},"y":{"field":"p","type":"quantitative","axis":null}}},
{"data":{"name":"title"},"mark":{"type":"text","color":"#d1d4dc","fontSize":7,"align":"left","baseline":"middle"},"encoding":{"x":{"field":"d","type":"temporal","axis":null},"y":{"field":"p","type":"quantitative","axis":null},"text":{"field":"t"}}},
{"data":{"name":"badges"},"mark":{"type":"point","shape":"M-1,-0.4H1V0.4H-1Z","size":676,"filled":true,"strokeWidth":0,"opacity":1},"encoding":{"x":{"datum":{"year":2017,"month":12,"date":25,"hours":20,"utc":true},"type":"temporal","axis":null},"y":{"field":"p","type":"quantitative","axis":null},"fill":{"condition":{"test":"datum.p == 0.4623","value":"#00e5ff"},"value":"#5d606b"}}},
{"data":{"name":"badges"},"mark":{"type":"text","font":"Liberation Sans","fontSize":6,"align":"center","baseline":"middle"},"encoding":{"x":{"datum":{"year":2017,"month":12,"date":25,"hours":20,"utc":true},"type":"temporal","axis":null},"y":{"field":"p","type":"quantitative","axis":null},"text":{"field":"t"},"color":{"condition":{"test":"datum.p == 0.4623","value":"#131722"},"value":"#e6e8ee"}}},
{"data":{"name":"badges"},"mark":{"type":"text","font":"Liberation Sans","fontSize":6,"align":"center","baseline":"middle"},"encoding":{"x":{"datum":{"year":2019,"month":3,"date":16,"hours":17,"utc":true},"type":"temporal","axis":null},"y":{"field":"p","type":"quantitative","axis":null},"text":{"field":"t"},"color":{"condition":{"test":"datum.p == 0.4623","value":"#131722"},"value":"#e6e8ee"}}},
{"data":{"name":"cross"},"mark":{"type":"point","shape":"M-1,-0.44H1V0.44H-1Z","size":1024,"filled":true,"fill":"#363a45","strokeWidth":0,"opacity":1},"encoding":{"x":{"field":"d","type":"temporal","axis":null},"y":{"field":"p","type":"quantitative","axis":null}}},
{"data":{"name":"cross"},"mark":{"type":"text","color":"#d1d4dc","font":"Liberation Sans","fontSize":7.5,"align":"center","baseline":"middle"},"encoding":{"x":{"field":"d","type":"temporal","axis":null},"y":{"field":"p","type":"quantitative","axis":null},"text":{"field":"t"}}}
],
"resolve":{"axis":{"x":"independent","y":"independent"}}
}
